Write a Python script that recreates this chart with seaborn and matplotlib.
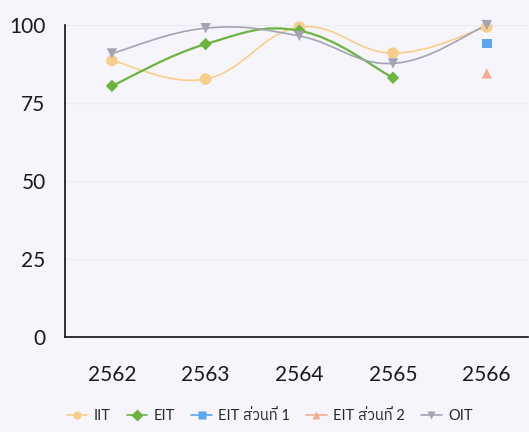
import matplotlib
matplotlib.use("Agg")
import matplotlib.pyplot as plt
from matplotlib.path import Path
from matplotlib.patches import PathPatch
from matplotlib.lines import Line2D
from matplotlib import font_manager
import numpy as np
import pandas as pd
import seaborn as sns

years = ["2562", "2563", "2564", "2565", "2566"]
iit = [88.6, 82.7, 99.3, 91.0, 99.4]
eit = [80.5, 93.9, 98.2, 83.1, np.nan]
eit_part1 = [np.nan, np.nan, np.nan, np.nan, 94.1]
eit_part2 = [np.nan, np.nan, np.nan, np.nan, 84.5]
oit = [90.9, 99.0, 96.5, 87.7, 100.0]

series = {
    "IIT": (iit, "#f7cf8a", "o"),
    "EIT": (eit, "#6cb33f", "D"),
    "EIT ส่วนที่ 1": (eit_part1, "#5ba7ee", "s"),
    "EIT ส่วนที่ 2": (eit_part2, "#f4ad92", "^"),
    "OIT": (oit, "#a3a3b5", "v"),
}
sizes = {"IIT": 70, "EIT": 40, "EIT ส่วนที่ 1": 50, "EIT ส่วนที่ 2": 55, "OIT": 55}

names = sorted({f.name for f in font_manager.fontManager.ttflist})
thai = [n for n in names if "Thai" in n or "Loma" in n or "Garuda" in n or "Sarabun" in n]

sns.set_theme(style="white")
plt.rcParams["font.family"] = ["Lato"] + thai + ["DejaVu Sans"]

df = pd.DataFrame({"year": years})
for name, (vals, _, _) in series.items():
    df[name] = vals
long = df.melt(id_vars="year", var_name="series", value_name="score").dropna()

fig = plt.figure(figsize=(5.29, 4.32), dpi=100, facecolor="#f5f5fb")
ax = fig.add_axes([0.123, 0.22, 0.875, 0.722])
ax.set_facecolor("#f5f5fb")

palette = {k: v[1] for k, v in series.items()}
markers = {k: v[2] for k, v in series.items()}

sns.scatterplot(data=long, x="year", y="score", hue="series", style="series",
                size="series", sizes=sizes,
                palette=palette, markers=markers, edgecolor="none",
                ax=ax, legend=False, zorder=4, clip_on=False)


def smooth_path(xs, ys, tension=0.4):
    # chart.js style bezier through the points
    pts = list(zip(xs, ys))
    verts = [pts[0]]
    codes = [Path.MOVETO]
    n = len(pts)
    for i in range(n - 1):
        p0 = pts[i - 1] if i > 0 else pts[i]
        p1, p2 = pts[i], pts[i + 1]
        p3 = pts[i + 2] if i + 2 < n else pts[i + 1]
        c1 = (p1[0] + (p2[0] - p0[0]) * tension / 2, p1[1] + (p2[1] - p0[1]) * tension / 2)
        c2 = (p2[0] - (p3[0] - p1[0]) * tension / 2, p2[1] - (p3[1] - p1[1]) * tension / 2)
        verts += [c1, c2, p2]
        codes += [Path.CURVE4] * 3
    return Path(verts, codes)


for name, (vals, color, _) in series.items():
    xs = [i for i, v in enumerate(vals) if not np.isnan(v)]
    ys = [v for v in vals if not np.isnan(v)]
    if len(xs) > 1:
        lw = 1.6 if name == "EIT" else 1.2
        ax.add_patch(PathPatch(smooth_path(xs, ys), facecolor="none", edgecolor=color,
                               lw=lw, zorder=3))

ax.set_xlim(-0.5, 4.44)
ax.set_ylim(0, 100)
ax.set_yticks([0, 25, 50, 75, 100])
ax.yaxis.grid(True, color="#ebebf2", lw=1)
ax.set_xlabel("")
ax.set_ylabel("")
for s in ["top", "right"]:
    ax.spines[s].set_visible(False)
ax.spines["left"].set_color("#1a1a1a")
ax.spines["bottom"].set_color("#1a1a1a")
ax.tick_params(axis="both", labelsize=15, colors="#1a1a1a", length=0)
ax.tick_params(axis="x", pad=20)
ax.tick_params(axis="y", pad=14)

handles = [Line2D([], [], color=c, marker=m, markersize=6, lw=1.2, markeredgecolor="none")
           for _, (_, c, m) in series.items()]
fig.legend(handles, list(series.keys()), loc="center", bbox_to_anchor=(0.51, 0.037),
           ncol=5, frameon=False, fontsize=10.5, handlelength=1.4, columnspacing=1.1,
           handletextpad=0.45)

fig.savefig("out.png", dpi=100, facecolor=fig.get_facecolor())
